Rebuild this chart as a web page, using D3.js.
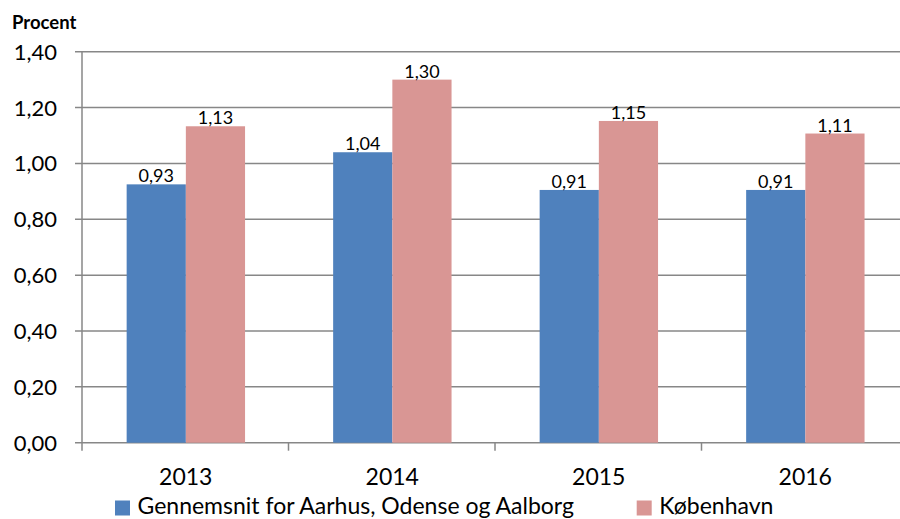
<!DOCTYPE html>
<html><head><meta charset="utf-8">
<script src="https://cdn.jsdelivr.net/npm/d3@7"></script>
<style>body{margin:0;background:#fff;}svg{display:block;font-family:Lato,"Open Sans",sans-serif;}</style>
</head><body>
<svg id="c" width="900" height="519"></svg>
<script>
const categories = ["2013","2014","2015","2016"];
const seriesNames = ["Gennemsnit for Aarhus, Odense og Aalborg","København"];
const gennemsnit = [0.925, 1.04, 0.905, 0.905];
const kobenhavn = [1.133, 1.30, 1.152, 1.107];
const labelsG = ["0,93","1,04","0,91","0,91"];
const labelsK = ["1,13","1,30","1,15","1,11"];
const yTicks = [0,0.2,0.4,0.6,0.8,1.0,1.2,1.4];
const colors = ["#4F81BD","#D99694"];

const svg = d3.select("#c");
const pLeft = 82, pRight = 908, pTop = 51.7, pBottom = 442.7;
const x = d3.scaleBand().domain(categories).range([pLeft,pRight]).paddingInner(0).paddingOuter(0);
const y = d3.scaleLinear().domain([0,1.4]).range([pBottom,pTop]);
const fmt = d => d3.format(".2f")(d).replace(".",",");

// gridlines
svg.append("g").selectAll("line").data(yTicks).join("line")
  .attr("x1",pLeft-7).attr("x2",pRight).attr("y1",d=>y(d)).attr("y2",d=>y(d))
  .attr("stroke","#878787").attr("stroke-width",1.5);
// y axis line
svg.append("line").attr("x1",pLeft).attr("x2",pLeft).attr("y1",pTop).attr("y2",pBottom+8)
  .attr("stroke","#878787").attr("stroke-width",1.5);
// category ticks
svg.append("g").selectAll("line").data(categories.slice(1)).join("line")
  .attr("x1",d=>x(d)).attr("x2",d=>x(d)).attr("y1",pBottom).attr("y2",pBottom+8)
  .attr("stroke","#878787").attr("stroke-width",1.5);
// y tick labels
svg.append("g").selectAll("text").data(yTicks).join("text")
  .attr("x",57).attr("y",d=>y(d)+8).attr("text-anchor","end")
  .attr("font-size",22).attr("fill","#000").text(fmt);

const barW = 59.2;
const groupOffset = (x.bandwidth() - 2*barW)/2 + 0.6;
const series = [gennemsnit,kobenhavn];
const labels = [labelsG,labelsK];
series.forEach((vals,si)=>{
  const g = svg.append("g");
  g.selectAll("rect").data(vals).join("rect")
    .attr("x",(d,i)=>x(categories[i])+groupOffset+si*barW)
    .attr("width",barW)
    .attr("y",d=>y(d)).attr("height",d=>pBottom-y(d))
    .attr("fill",colors[si]);
  g.selectAll("text").data(vals).join("text")
    .attr("x",(d,i)=>x(categories[i])+groupOffset+si*barW+barW/2)
    .attr("y",d=>y(d)-2)
    .attr("text-anchor","middle").attr("font-size",18).attr("fill","#000")
    .text((d,i)=>labels[si][i]);
});
// x labels
svg.append("g").selectAll("text").data(categories).join("text")
  .attr("x",d=>x(d)+x.bandwidth()/2+0.5).attr("y",485)
  .attr("text-anchor","middle").attr("font-size",23).text(d=>d);
// title
svg.append("text").attr("x",12).attr("y",29).attr("font-size",18.5).attr("font-weight","bold").text("Procent");
// legend
const legX = [115, 636.7];
seriesNames.forEach((n,i)=>{
  svg.append("rect").attr("x",legX[i]).attr("y",500.5).attr("width",15).attr("height",15).attr("fill",colors[i]);
  svg.append("text").attr("x",legX[i]+22.5).attr("y",514).attr("font-size",23).text(n);
});
</script>
</body></html>
